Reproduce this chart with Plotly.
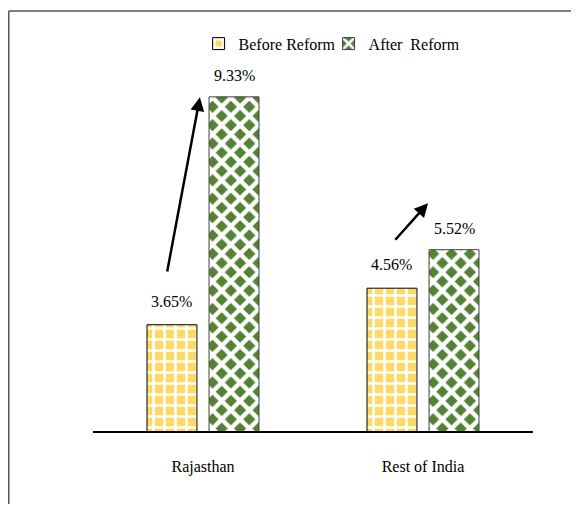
import plotly.graph_objects as go

categories = ["Rajasthan", "Rest of India"]
before_reform = [3.65, 4.56]
after_reform = [9.33, 5.52]
series_names = ["Before Reform", "After\u00a0 Reform"]

# arrow annotations (tail -> head) in data coordinates
arrow_tail_x = [-0.164, 0.868]
arrow_tail_y = [4.94, 5.73]
arrow_head_x = [-0.014, 1.023]
arrow_head_y = [9.32, 6.68]

FONT = "Liberation Serif"
YELLOW = "#FFD966"
GREEN = "#548235"

fig = go.Figure()
fig.add_trace(go.Bar(
    name=series_names[0], x=categories, y=before_reform,
    marker=dict(
        color=YELLOW,
        line=dict(color="black", width=1),
        pattern=dict(shape="+", bgcolor=YELLOW, fgcolor="white",
                     size=11, solidity=0.42, fillmode="replace"),
    ),
))
fig.add_trace(go.Bar(
    name=series_names[1], x=categories, y=after_reform,
    marker=dict(
        color=GREEN,
        line=dict(color="#404040", width=1),
        pattern=dict(shape="x", bgcolor=GREEN, fgcolor="white",
                     size=13, solidity=0.55, fillmode="replace"),
    ),
))

offset = 0.141
annotations = []
for i, v in enumerate(before_reform):
    annotations.append(dict(x=i - offset, y=v, xref="x", yref="y",
                            text=f"{v:.2f}%", showarrow=False,
                            yanchor="bottom", yshift=13,
                            font=dict(family=FONT, size=16, color="black")))
for i, v in enumerate(after_reform):
    annotations.append(dict(x=i + offset, y=v, xref="x", yref="y",
                            text=f"{v:.2f}%", showarrow=False,
                            yanchor="bottom", yshift=11,
                            font=dict(family=FONT, size=16, color="black")))
for tx, ty, hx, hy in zip(arrow_tail_x, arrow_tail_y, arrow_head_x, arrow_head_y):
    annotations.append(dict(x=hx, y=hy, ax=tx, ay=ty, xref="x", yref="y",
                            axref="x", ayref="y", text="", showarrow=True,
                            arrowhead=2, arrowsize=1.1, arrowwidth=2.5,
                            arrowcolor="black"))

border = dict(color="#555555", width=1.5)
fig.update_layout(
    width=563, height=496,
    margin=dict(l=85, r=38, t=62, b=73),
    paper_bgcolor="white", plot_bgcolor="white",
    barmode="group", bargap=0.436, bargroupgap=0.195,
    font=dict(family=FONT, size=16, color="black"),
    showlegend=True,
    legend=dict(orientation="h", x=0.24, xanchor="left", y=1.12, yanchor="top",
                font=dict(family=FONT, size=16, color="black"),
                itemwidth=30, entrywidth=85, tracegroupgap=0,
                bgcolor="rgba(0,0,0,0)"),
    xaxis=dict(type="category", showline=True, linecolor="black", linewidth=1.5,
               ticks="", showgrid=False, zeroline=False,
               tickfont=dict(family=FONT, size=16, color="black"),
               ticklabelstandoff=20, range=[-0.5, 1.5]),
    yaxis=dict(range=[1, 10], visible=False, showgrid=False, zeroline=False),
    annotations=annotations,
    shapes=[
        dict(type="line", xref="paper", yref="paper",
             x0=-0.1915, x1=1.0864, y0=1.1634, y1=1.1634, line=border, layer="below"),
        dict(type="line", xref="paper", yref="paper",
             x0=-0.1915, x1=-0.1915, y0=1.1634, y1=-0.2022, line=border, layer="below"),
    ],
)

fig.write_html("out.html")
